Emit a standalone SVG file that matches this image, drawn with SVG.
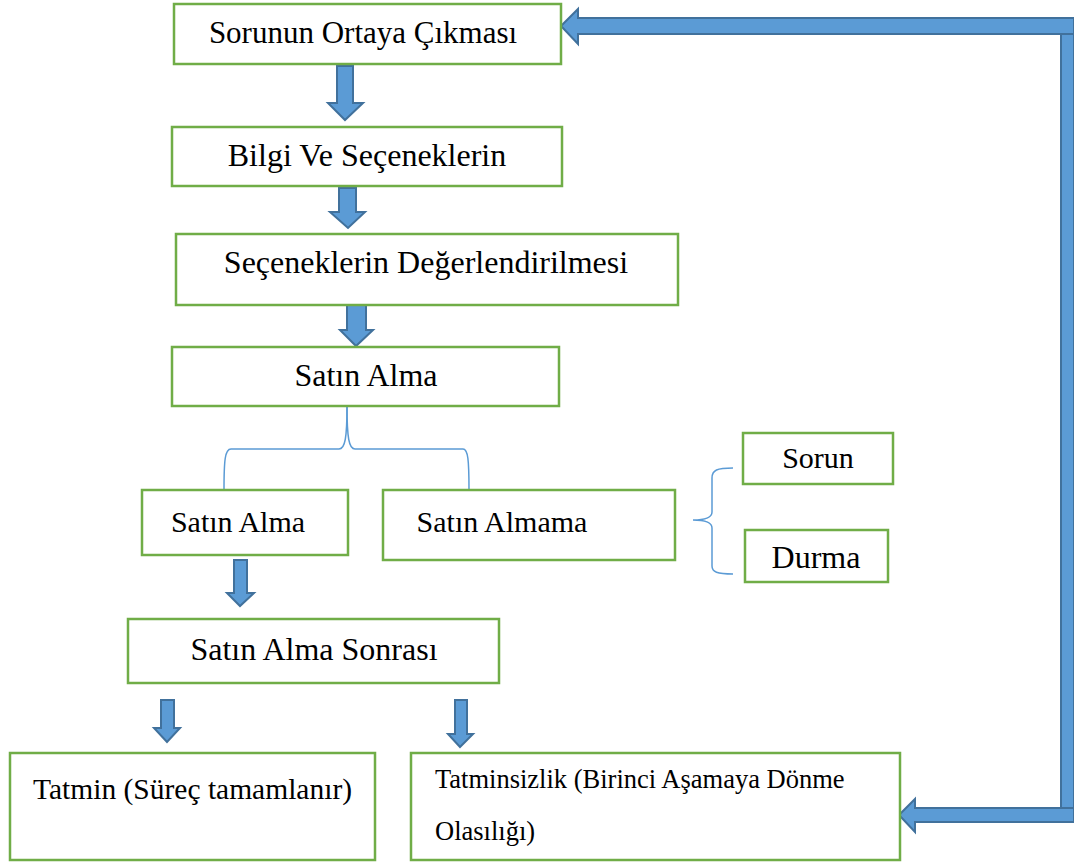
<svg xmlns="http://www.w3.org/2000/svg" width="1074" height="863" viewBox="0 0 1074 863">
<style>
.box{fill:#fff;stroke:#70ad47;stroke-width:2.5}
.arr{fill:#5b9bd5;stroke:#41719c;stroke-width:2;stroke-linejoin:miter}
.brace{fill:none;stroke:#5b9bd5;stroke-width:1.5}
text{font-family:"Liberation Serif","Times New Roman",serif;fill:#000;font-size:30px}
.c{text-anchor:middle}
.l{font-size:32px}
.s{font-size:26.5px}
</style>
<rect width="1074" height="863" fill="#fff"/>
<g id="connectors">
<polygon class="arr" points="561,26 578,9 578,18 1074,18 1074,34 578,34 578,44"/>
<rect class="arr" x="1061" y="34" width="13" height="774"/>
<polygon class="arr" points="899,815 915,799 915,808 1074,808 1074,822 915,822 915,832"/>
<polygon class="arr" points="337,66 353,66 353,103 363,103 345,120 328,103 337,103"/>
<polygon class="arr" points="339,188 356,188 356,212 365,212 348,228 330,212 339,212"/>
<polygon class="arr" points="347,305 366,305 366,330 373,330 356,346 340,330 347,330"/>
<polygon class="arr" points="234,560 247,560 247,593 254,593 240,606 227,593 234,593"/>
<polygon class="arr" points="161,700 174,700 174,728 180,728 167,742 154,728 161,728"/>
<polygon class="arr" points="455,700 467,700 467,734 473,734 460,747 448,734 455,734"/>
<path class="brace" d="M347,406 C347,438 345,449 339,449 L231,449 C225,449 224,460 224,490"/>
<path class="brace" d="M347,406 C347,438 349,449 355,449 L463,449 C468,449 469,460 469,490"/>
<path class="brace" d="M733,468 C717,468 712,470 712,478 L712,512 C712,518 705,520 693,520 C705,520 712,522 712,528 L712,566 C712,572 717,574 733,574"/>
</g>
<g id="n1"><rect class="box" x="174" y="4" width="387" height="60"/><text class="c" x="363" y="43" style="font-size:31px">Sorunun Ortaya Çıkması</text></g>
<g id="n2"><rect class="box" x="172" y="127" width="390" height="59"/><text class="c l" x="367" y="166">Bilgi Ve Seçeneklerin</text></g>
<g id="n3"><rect class="box" x="176" y="234" width="502" height="71"/><text class="c l" x="426" y="273">Seçeneklerin Değerlendirilmesi</text></g>
<g id="n4"><rect class="box" x="172" y="347" width="387" height="59"/><text class="c l" x="366" y="386">Satın Alma</text></g>
<g id="n5"><rect class="box" x="142" y="490" width="206" height="65"/><text class="c" x="238" y="532">Satın Alma</text></g>
<g id="n6"><rect class="box" x="383" y="490" width="292" height="70"/><text class="c" x="502" y="532">Satın Almama</text></g>
<g id="n7"><rect class="box" x="743" y="433" width="150" height="51"/><text class="c" x="818" y="468">Sorun</text></g>
<g id="n8"><rect class="box" x="745" y="530" width="143" height="52"/><text class="c l" x="816" y="568">Durma</text></g>
<g id="n9"><rect class="box" x="128" y="619" width="371" height="64"/><text class="c l" x="314" y="660">Satın Alma Sonrası</text></g>
<g id="n10"><rect class="box" x="10" y="753" width="365" height="107"/><text x="33" y="799" style="font-size:29.5px">Tatmin (Süreç tamamlanır)</text></g>
<g id="n11"><rect class="box" x="411" y="753" width="489" height="107"/><text class="s" x="435" y="788">Tatminsizlik (Birinci Aşamaya Dönme</text><text class="s" x="435" y="840">Olasılığı)</text></g>
</svg>
